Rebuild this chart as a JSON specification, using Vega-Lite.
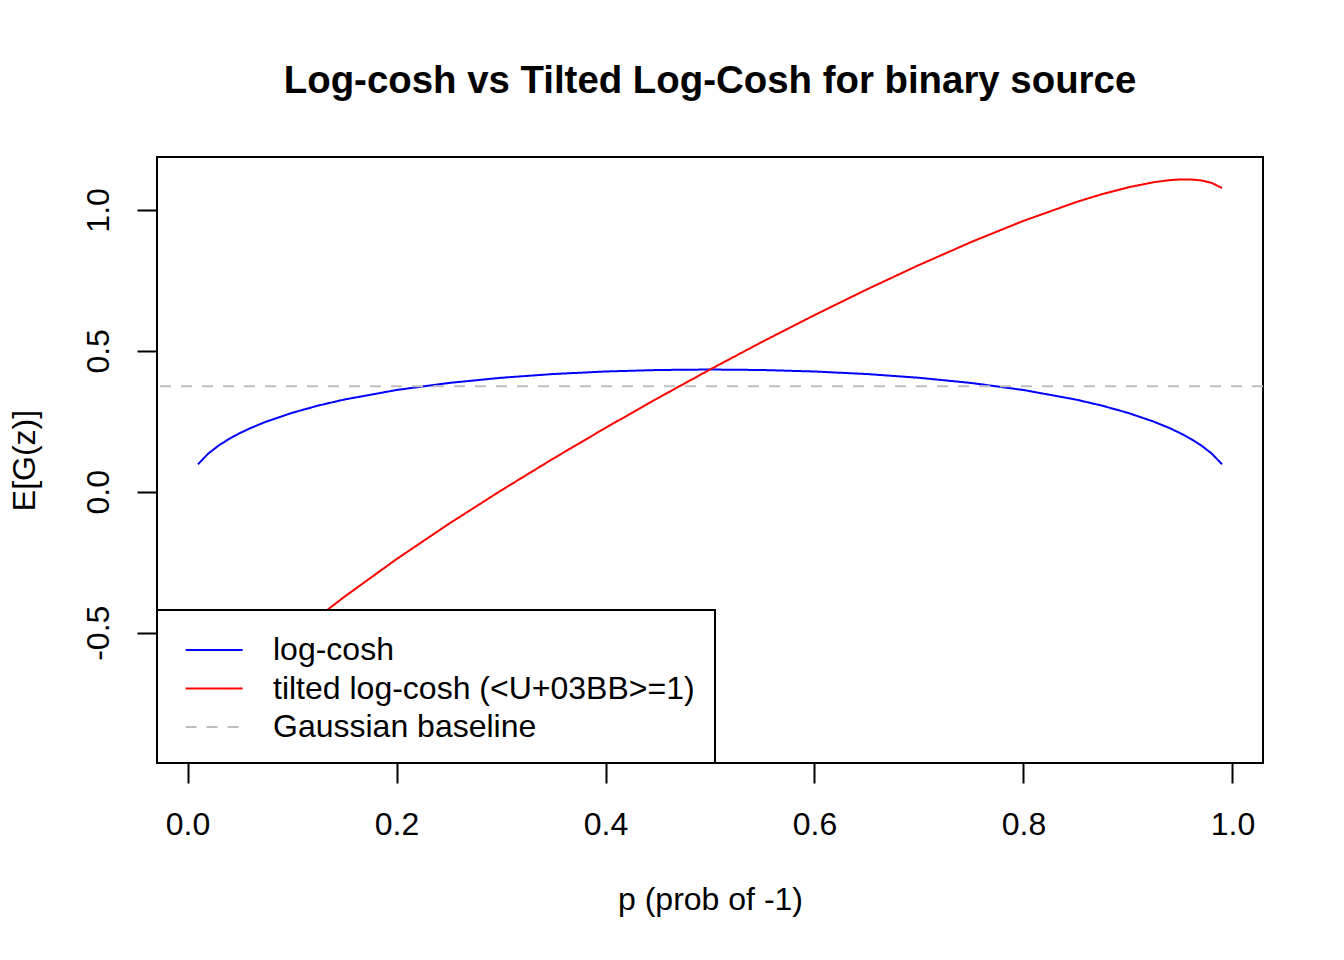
{
  "$schema": "https://vega.github.io/schema/vega-lite/v6.json",
  "width": 1106,
  "height": 606,
  "autosize": "none",
  "padding": {"left": 157, "top": 157, "right": 81, "bottom": 197},
  "background": "white",
  "config": {
    "font": "Liberation Sans",
    "view": {"stroke": "black", "strokeWidth": 2},
    "axis": {
      "grid": false,
      "domain": false,
      "ticks": true,
      "tickColor": "black",
      "tickWidth": 2,
      "tickSize": 20,
      "labelFont": "Liberation Sans",
      "labelFontSize": 32,
      "labelColor": "black",
      "titleFont": "Liberation Sans",
      "titleFontSize": 32,
      "titleFontWeight": "normal",
      "titleColor": "black"
    },
    "legend": {
      "orient": "bottom-left",
      "offset": 0,
      "padding": 20,
      "fillColor": "white",
      "strokeColor": "black",
      "strokeWidth": 2,
      "symbolType": "M-0.6,0H2.4",
      "symbolSize": 1444,
      "symbolStrokeWidth": 2,
      "labelFont": "Liberation Sans",
      "labelFontSize": 32,
      "labelColor": "black",
      "labelOffset": 56,
      "labelLimit": 1000,
      "rowPadding": 2.5,
      "zindex": 1
    }
  },
  "title": {
    "text": "Log-cosh vs Tilted Log-Cosh for binary source",
    "font": "Liberation Sans",
    "fontSize": 38.4,
    "fontWeight": "bold",
    "color": "black",
    "anchor": "middle",
    "baseline": "alphabetic",
    "offset": 26
  },
  "layer": [
    {
      "data": {
        "values": [
          {"p": 0.01, "value": 0.0976, "series": "log-cosh"},
          {"p": 0.02, "value": 0.1361, "series": "log-cosh"},
          {"p": 0.03, "value": 0.1647, "series": "log-cosh"},
          {"p": 0.04, "value": 0.1881, "series": "log-cosh"},
          {"p": 0.05, "value": 0.2081, "series": "log-cosh"},
          {"p": 0.06, "value": 0.2256, "series": "log-cosh"},
          {"p": 0.075, "value": 0.2485, "series": "log-cosh"},
          {"p": 0.1, "value": 0.2800, "series": "log-cosh"},
          {"p": 0.125, "value": 0.3058, "series": "log-cosh"},
          {"p": 0.15, "value": 0.3273, "series": "log-cosh"},
          {"p": 0.2, "value": 0.3611, "series": "log-cosh"},
          {"p": 0.25, "value": 0.3861, "series": "log-cosh"},
          {"p": 0.3, "value": 0.4045, "series": "log-cosh"},
          {"p": 0.35, "value": 0.4178, "series": "log-cosh"},
          {"p": 0.4, "value": 0.4268, "series": "log-cosh"},
          {"p": 0.45, "value": 0.4321, "series": "log-cosh"},
          {"p": 0.5, "value": 0.4338, "series": "log-cosh"},
          {"p": 0.55, "value": 0.4321, "series": "log-cosh"},
          {"p": 0.6, "value": 0.4268, "series": "log-cosh"},
          {"p": 0.65, "value": 0.4178, "series": "log-cosh"},
          {"p": 0.7, "value": 0.4045, "series": "log-cosh"},
          {"p": 0.75, "value": 0.3861, "series": "log-cosh"},
          {"p": 0.8, "value": 0.3611, "series": "log-cosh"},
          {"p": 0.85, "value": 0.3273, "series": "log-cosh"},
          {"p": 0.875, "value": 0.3058, "series": "log-cosh"},
          {"p": 0.9, "value": 0.2800, "series": "log-cosh"},
          {"p": 0.925, "value": 0.2485, "series": "log-cosh"},
          {"p": 0.94, "value": 0.2256, "series": "log-cosh"},
          {"p": 0.95, "value": 0.2081, "series": "log-cosh"},
          {"p": 0.96, "value": 0.1881, "series": "log-cosh"},
          {"p": 0.97, "value": 0.1647, "series": "log-cosh"},
          {"p": 0.98, "value": 0.1361, "series": "log-cosh"},
          {"p": 0.99, "value": 0.0976, "series": "log-cosh"},
          {"p": 0.01, "value": -0.8824, "series": "tilted log-cosh (<U+03BB>=1)"},
          {"p": 0.02, "value": -0.8239, "series": "tilted log-cosh (<U+03BB>=1)"},
          {"p": 0.03, "value": -0.7753, "series": "tilted log-cosh (<U+03BB>=1)"},
          {"p": 0.04, "value": -0.7319, "series": "tilted log-cosh (<U+03BB>=1)"},
          {"p": 0.05, "value": -0.6919, "series": "tilted log-cosh (<U+03BB>=1)"},
          {"p": 0.06, "value": -0.6544, "series": "tilted log-cosh (<U+03BB>=1)"},
          {"p": 0.075, "value": -0.6015, "series": "tilted log-cosh (<U+03BB>=1)"},
          {"p": 0.1, "value": -0.5200, "series": "tilted log-cosh (<U+03BB>=1)"},
          {"p": 0.125, "value": -0.4442, "series": "tilted log-cosh (<U+03BB>=1)"},
          {"p": 0.15, "value": -0.3727, "series": "tilted log-cosh (<U+03BB>=1)"},
          {"p": 0.2, "value": -0.2389, "series": "tilted log-cosh (<U+03BB>=1)"},
          {"p": 0.25, "value": -0.1139, "series": "tilted log-cosh (<U+03BB>=1)"},
          {"p": 0.3, "value": 0.0045, "series": "tilted log-cosh (<U+03BB>=1)"},
          {"p": 0.35, "value": 0.1178, "series": "tilted log-cosh (<U+03BB>=1)"},
          {"p": 0.4, "value": 0.2268, "series": "tilted log-cosh (<U+03BB>=1)"},
          {"p": 0.45, "value": 0.3321, "series": "tilted log-cosh (<U+03BB>=1)"},
          {"p": 0.5, "value": 0.4338, "series": "tilted log-cosh (<U+03BB>=1)"},
          {"p": 0.55, "value": 0.5321, "series": "tilted log-cosh (<U+03BB>=1)"},
          {"p": 0.6, "value": 0.6268, "series": "tilted log-cosh (<U+03BB>=1)"},
          {"p": 0.65, "value": 0.7178, "series": "tilted log-cosh (<U+03BB>=1)"},
          {"p": 0.7, "value": 0.8045, "series": "tilted log-cosh (<U+03BB>=1)"},
          {"p": 0.75, "value": 0.8861, "series": "tilted log-cosh (<U+03BB>=1)"},
          {"p": 0.8, "value": 0.9611, "series": "tilted log-cosh (<U+03BB>=1)"},
          {"p": 0.85, "value": 1.0273, "series": "tilted log-cosh (<U+03BB>=1)"},
          {"p": 0.875, "value": 1.0558, "series": "tilted log-cosh (<U+03BB>=1)"},
          {"p": 0.9, "value": 1.0800, "series": "tilted log-cosh (<U+03BB>=1)"},
          {"p": 0.925, "value": 1.0985, "series": "tilted log-cosh (<U+03BB>=1)"},
          {"p": 0.94, "value": 1.1056, "series": "tilted log-cosh (<U+03BB>=1)"},
          {"p": 0.95, "value": 1.1081, "series": "tilted log-cosh (<U+03BB>=1)"},
          {"p": 0.96, "value": 1.1081, "series": "tilted log-cosh (<U+03BB>=1)"},
          {"p": 0.97, "value": 1.1047, "series": "tilted log-cosh (<U+03BB>=1)"},
          {"p": 0.98, "value": 1.0961, "series": "tilted log-cosh (<U+03BB>=1)"},
          {"p": 0.99, "value": 1.0776, "series": "tilted log-cosh (<U+03BB>=1)"}
        ]
      },
      "mark": {"type": "line", "strokeWidth": 2, "clip": true},
      "encoding": {
        "x": {
          "field": "p",
          "type": "quantitative",
          "scale": {"domain": [-0.0292, 1.0292], "nice": false, "zero": false},
          "axis": {
            "values": [0, 0.2, 0.4, 0.6, 0.8, 1.0],
            "format": ".1f",
            "labelPadding": 26,
            "labelBaseline": "top",
            "labelAlign": "center",
            "title": "p (prob of -1)",
            "titleX": 553,
            "titleY": 146,
            "titleBaseline": "alphabetic",
            "titleAlign": "center"
          }
        },
        "y": {
          "field": "value",
          "type": "quantitative",
          "scale": {"domain": [-0.96206, 1.18772], "nice": false, "zero": false},
          "axis": {
            "values": [-0.5, 0, 0.5, 1.0],
            "labelExpr": "datum.value < 0 ? '-' + format(-datum.value, '.1f') : format(datum.value, '.1f')",
            "labelAngle": -90,
            "labelAlign": "center",
            "labelBaseline": "alphabetic",
            "labelPadding": 29,
            "title": "E[G(z)]",
            "titleAngle": -90,
            "titleX": -123,
            "titleY": 303,
            "titleAlign": "center",
            "titleBaseline": "alphabetic"
          }
        },
        "color": {
          "field": "series",
          "type": "nominal",
          "title": null,
          "scale": {
            "domain": ["log-cosh", "tilted log-cosh (<U+03BB>=1)", "Gaussian baseline"],
            "range": ["#0000FF", "#FF0000", "#BEBEBE"]
          }
        },
        "strokeDash": {
          "field": "series",
          "type": "nominal",
          "title": null,
          "scale": {
            "domain": ["log-cosh", "tilted log-cosh (<U+03BB>=1)", "Gaussian baseline"],
            "range": [[1, 0], [1, 0], [11, 10]]
          }
        }
      }
    },
    {
      "data": {
        "values": [
          {"value": 0.3746, "series": "Gaussian baseline"}
        ]
      },
      "mark": {"type": "rule", "strokeWidth": 2},
      "encoding": {
        "y": {"field": "value", "type": "quantitative"},
        "color": {"field": "series", "type": "nominal", "title": null},
        "strokeDash": {"field": "series", "type": "nominal", "title": null}
      }
    }
  ]
}
